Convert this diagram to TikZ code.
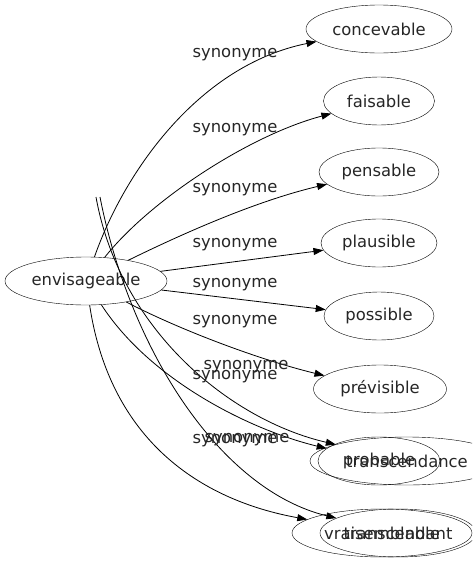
\documentclass[tikz,border=0pt]{standalone}
\usepackage{fontspec}
\setmainfont{DejaVu Sans}
\usetikzlibrary{shapes.geometric,arrows.meta}

\begin{document}
\begin{tikzpicture}[x=1pt,y=-1pt,
	word/.style={draw,ellipse,inner sep=0pt,minimum height=48pt,font=\fontsize{16.4}{18}\selectfont,text=black!85},
	rel/.style={inner sep=0pt,font=\fontsize{16.4}{18}\selectfont,text=black!85},
	syn/.style={-{Triangle[length=10pt,width=7pt]},line width=0.8pt}]

	\useasboundingbox (0,0) rectangle (472,563);
	\clip (0,0) rectangle (472,563);

	% Words
	\node[word,minimum width=162pt] (env) at (86,281) {envisageable};
	\node[word,minimum width=146pt] (conc) at (379,29) {concevable};
	\node[word,minimum width=111pt] (fais) at (379,101) {faisable};
	\node[word,minimum width=120pt] (pens) at (379,172) {pensable};
	\node[word,minimum width=116pt] (plau) at (379,243) {plausible};
	\node[word,minimum width=110pt] (poss) at (379,316) {possible};
	\node[word,minimum width=133pt] (prev) at (380,389) {prévisible};
	\node[word,minimum width=122pt] (prob) at (379,461) {probable};
	\node[word,minimum width=194pt] (trsa) at (407,461) {transcendance};
	\node[word,minimum width=180pt] (vrai) at (382,533) {vraisemblable};
	\node[word,minimum width=156pt] (trst) at (398,533) {transcendant};

	% Loose ends
	\coordinate (top1) at (96,197);
	\coordinate (top2) at (100,197);

	% Edges
	\draw[syn] (env) .. controls (125,170) and (200,65) .. (conc);
	\draw[syn] (env) .. controls (150,200) and (250,135) .. (fais);
	\draw[syn] (env) .. controls (190,230) and (260,200) .. (pens);
	\draw[syn] (env) -- (plau);
	\draw[syn] (env) -- (poss);
	\draw[syn] (env) .. controls (180,330) and (260,360) .. (prev);
	\draw[syn] (env) .. controls (150,380) and (250,430) .. (prob);
	\draw[syn] (env) .. controls (110,440) and (200,500) .. (vrai);
	\draw[syn] (top1) .. controls (120,330) and (230,420) .. (trsa);
	\draw[syn] (top2) .. controls (130,350) and (220,490) .. (trst);

	% Labels
	\foreach \n/\x/\y in {a/235/55, b/235/130, c/235/190, d/235/245, e/235/285, f/235/322, g/246/367, h/235/377, i/235/441, j/247/440}
		\node[rel] (syn\n) at (\x,\y) {synonyme};

\end{tikzpicture}
\end{document}
